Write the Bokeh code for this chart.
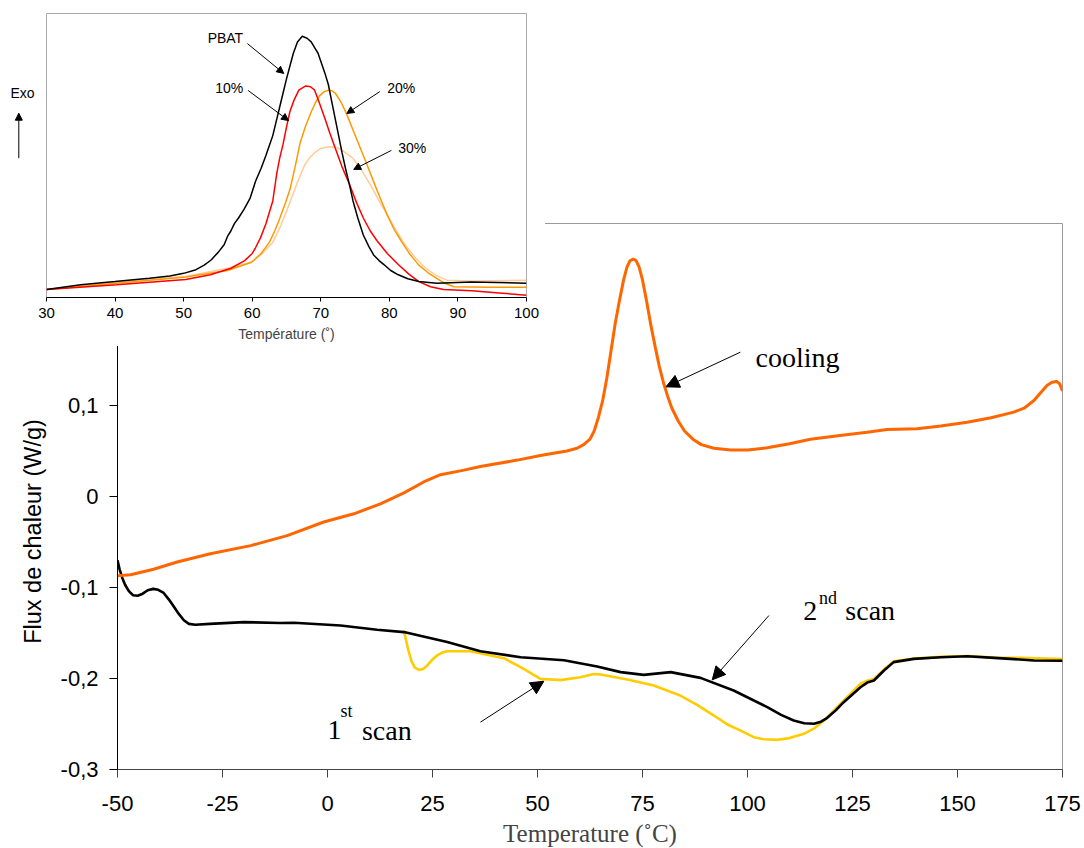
import math
from bokeh.plotting import figure
from bokeh.models import Range1d, FixedTicker, Label, Arrow, NormalHead
from bokeh.layouts import column
from bokeh.embed import file_html
from bokeh.resources import INLINE

# ---------------- main chart data ----------------
x_ticks = [-50, -25, 0, 25, 50, 75, 100, 125, 150, 175]
x_tick_labels = ["-50", "-25", "0", "25", "50", "75", "100", "125", "150", "175"]
y_ticks = [-0.3, -0.2, -0.1, 0, 0.1]
y_tick_labels = ["-0,3", "-0,2", "-0,1", "0", "0,1"]

cool_t = [-50, -46.9, -41.4, -35.8, -27.9, -18.3, -9.6, -0.9, 6.3, 12.6, 18.2, 22.9, 26.9, 32.5,
          36.4, 45.2, 50.7, 53.1, 57, 59.4, 61, 62.5, 63.5, 64.5, 65.5, 66.5, 67.5, 68.5, 69.5,
          70.5, 71.3, 72, 72.8, 73.5, 74.2, 75, 76, 77, 78, 79, 80, 81, 82, 83.5, 85, 87, 89, 92,
          96, 100, 104.7, 110, 115, 122, 128.5, 133.2, 140.4, 146, 152.3, 158, 163.4, 166, 168.2,
          170, 171.3, 172.5, 173.6, 174.3, 175]
cool_q = [-0.087, -0.086, -0.080, -0.072, -0.063, -0.054, -0.043, -0.028, -0.019, -0.008, 0.004,
          0.016, 0.024, 0.029, 0.033, 0.040, 0.045, 0.047, 0.050, 0.053, 0.057, 0.063, 0.072,
          0.087, 0.105, 0.130, 0.160, 0.190, 0.215, 0.238, 0.252, 0.259, 0.261, 0.259, 0.252,
          0.238, 0.214, 0.188, 0.165, 0.143, 0.125, 0.110, 0.097, 0.083, 0.072, 0.063, 0.057,
          0.053, 0.051, 0.051, 0.0535, 0.058, 0.063, 0.067, 0.0707, 0.0736, 0.0744, 0.0775,
          0.0817, 0.0865, 0.0927, 0.0975, 0.1055, 0.115, 0.122, 0.1255, 0.1264, 0.124, 0.116]

scan2_t = [-50, -49.5, -48.9, -48.2, -47.3, -46.3, -45.2, -44, -42.8, -41.5, -40.3, -39, -37.8,
           -36.6, -35.4, -34.2, -33, -31.5, -28, -19.9, -11.2, -8, 3.1, 11.8, 18.2, 28.5, 36.4,
           46, 56.3, 64.2, 69.8, 75.3, 81.7, 88.8, 96.7, 104.7, 108, 111, 113.5, 115.8, 117.5,
           119, 121, 122.9, 126.9, 128.5, 130.1, 132.5, 134.8, 139.6, 146, 152.3, 158.7, 168.2, 175]
scan2_q = [-0.070, -0.080, -0.089, -0.097, -0.104, -0.1085, -0.109, -0.1068, -0.103, -0.1015,
           -0.1025, -0.106, -0.113, -0.121, -0.129, -0.136, -0.1400, -0.1410, -0.1400, -0.138,
           -0.139, -0.1388, -0.1418, -0.1465, -0.149, -0.160, -0.170, -0.1766, -0.180, -0.1868,
           -0.193, -0.196, -0.193, -0.1993, -0.2132, -0.2315, -0.2400, -0.2462, -0.2492, -0.2498,
           -0.2475, -0.2432, -0.235, -0.226, -0.2096, -0.2045, -0.2022, -0.1912, -0.182, -0.1784,
           -0.1766, -0.1755, -0.1773, -0.1802, -0.1805]

scan1_t = [18.2, 18.7, 19.3, 20, 20.8, 21.8, 22.8, 23.7, 24.8, 26.1, 27.3, 28.5, 34, 42, 46, 50.7,
           55.5, 60.2, 63.4, 65, 71.4, 77.7, 84, 88, 92, 95.2, 97.5, 101.5, 104, 107.1, 110, 113.4,
           116, 118.2, 122.1, 126.9, 128.5, 130.1, 132.5, 134.8, 139.6, 146, 152.3, 158.7, 165, 175]
scan1_q = [-0.1473, -0.158, -0.170, -0.181, -0.188, -0.1905, -0.1895, -0.1860, -0.180, -0.1747,
           -0.1715, -0.170, -0.170, -0.1777, -0.1876, -0.2004, -0.2018, -0.1986, -0.195, -0.1956,
           -0.201, -0.2077, -0.2187, -0.229, -0.2407, -0.2505, -0.2553, -0.2645, -0.2668, -0.2674,
           -0.2655, -0.2608, -0.2545, -0.2462, -0.2278, -0.2058, -0.2025, -0.2005, -0.190, -0.181,
           -0.178, -0.1762, -0.1752, -0.1770, -0.1772, -0.1785]

# ---------------- inset data (arbitrary exo units) ----------------
inset_x_ticks = [30, 40, 50, 60, 70, 80, 90, 100]

pbat_t = [30, 35, 40, 45, 48, 50, 51.8, 53, 54, 55, 55.9, 56.4, 56.9, 57.4, 58, 58.8, 59.7, 60.5,
          61.3, 62, 62.5, 63, 63.5, 64, 64.5, 65, 65.5, 66, 66.6, 67.3, 68, 68.6, 69.1, 69.6, 70.1,
          70.6, 71.1, 71.6, 72.1, 72.6, 73.1, 73.6, 74.2, 74.7, 75.4, 76.2, 77, 77.7, 78.5, 79.2,
          80.2, 81.3, 82.7, 84.3, 86.9, 92, 100]
pbat_v = [2.8, 4.5, 5.6, 6.8, 7.6, 8.5, 9.8, 11.4, 13.2, 15.8, 18.6, 21.5, 23.5, 26, 28, 31, 35,
          41, 45.5, 50, 53.5, 57, 62, 67, 72, 77, 81.5, 86, 90, 92, 91.3, 90, 88, 86, 82.5, 79,
          75, 69, 63, 57, 51, 45.5, 39.5, 34, 28, 22, 18, 15, 13, 11.6, 9.5, 8, 6.6, 5.6, 5, 5.5, 5]

p10_t = [30, 40.2, 50.3, 53.9, 56.9, 58.9, 60, 60.5, 61.2, 62, 62.5, 63, 63.3, 63.6, 64, 64.5, 65,
         65.5, 66.1, 66.8, 67.8, 68.5, 69.1, 69.8, 70.6, 71.3, 72.1, 73.1, 74.2, 75.2, 76.2, 77.2,
         78.2, 79.7, 81.3, 82.8, 84.3, 86, 87.9, 92, 96, 100]
p10_v = [2.8, 4.5, 6.3, 8, 10.3, 13, 15.5, 17.6, 21, 26, 30, 34, 39, 44, 49, 54, 60, 65.5, 69.5,
         73, 74.5, 74.2, 73, 68.5, 63, 58, 52.6, 46, 39.8, 33.5, 28, 23.5, 20, 15.5, 11.6, 8.3,
         5.6, 3.8, 2.8, 2.4, 1.6, 0.8]

p20_t = [30, 40.2, 50.3, 56.4, 59.9, 61.3, 62.5, 63.3, 64, 64.8, 65.5, 66.3, 67, 67.8, 68.6, 69.2,
         69.8, 70.5, 71.1, 71.6, 72.1, 72.9, 73.7, 74.7, 75.7, 76.7, 77.7, 78.7, 79.7, 80.7, 81.8,
         83, 84.3, 85.6, 86.9, 88.1, 89.4, 94.5, 100]
p20_v = [2.8, 5, 7.2, 9.5, 12.4, 15.5, 19.4, 23.5, 27.7, 33, 38, 46.5, 54.6, 60.5, 65.3, 68.5, 71,
         72.5, 73, 72.8, 72, 69, 65, 59, 53, 47, 40.8, 34.8, 29, 24, 19.6, 15.2, 11.4, 8.8, 6.7,
         5, 3.8, 3.6, 3.6]

p30_t = [30, 40.2, 50.3, 56.4, 59.9, 61.5, 63, 64.2, 65.5, 66.5, 67.6, 68.3, 69.1, 70, 70.9, 71.8,
         72.6, 73.6, 74.7, 75.9, 77.2, 78.4, 79.7, 81, 82.3, 83.8, 85.3, 86.8, 88.4, 92, 100]
p30_v = [2.8, 5.4, 7.4, 10.3, 12.4, 15.5, 19.4, 25.5, 33.5, 40, 46.4, 49, 51, 52.5, 53, 53, 52.6,
         51, 49, 45, 39.8, 34.5, 29, 23.5, 18.5, 14, 10.3, 7.8, 6.1, 5.8, 6.1]

SANS = "Liberation Sans"
SERIF = "Liberation Serif"

# ---------------- main figure ----------------
p = figure(frame_width=945, frame_height=546, min_border_left=117, min_border_right=22,
           min_border_top=223, min_border_bottom=79, x_range=Range1d(-50, 175),
           y_range=Range1d(-0.3, 0.3), output_backend="svg", toolbar_location=None)
p.grid.visible = False
p.outline_line_color = "#999999"
p.background_fill_color = "white"
p.border_fill_color = "white"

p.xaxis.ticker = FixedTicker(ticks=x_ticks)
p.xaxis.major_label_overrides = {t: s for t, s in zip(x_ticks, x_tick_labels)}
p.xaxis.axis_line_color = "#444444"
p.xaxis.major_tick_line_color = "#444444"
p.xaxis.major_tick_in = 0
p.xaxis.major_tick_out = 8
p.xaxis.minor_tick_line_color = None
p.xaxis.major_label_text_font = SANS
p.xaxis.major_label_text_font_size = "22px"
p.xaxis.major_label_text_color = "black"
p.xaxis.major_label_standoff = 18
p.xaxis.axis_label = "Temperature (˚C)"
p.xaxis.axis_label_text_font = SERIF
p.xaxis.axis_label_text_font_size = "25px"
p.xaxis.axis_label_text_font_style = "normal"
p.xaxis.axis_label_standoff = 6

p.yaxis.ticker = FixedTicker(ticks=y_ticks)
p.yaxis.major_label_overrides = {t: s for t, s in zip(y_ticks, y_tick_labels)}
p.yaxis.axis_line_color = "black"
p.yaxis.major_tick_line_color = "black"
p.yaxis.major_tick_in = 0
p.yaxis.major_tick_out = 8
p.yaxis.minor_tick_line_color = None
p.yaxis.major_label_text_font = SANS
p.yaxis.major_label_text_font_size = "22px"
p.yaxis.major_label_text_color = "black"
p.yaxis.major_label_standoff = 11

p.line(scan1_t, scan1_q, line_color="#FFCC00", line_width=2.6)
p.line(scan2_t, scan2_q, line_color="black", line_width=2.6)
p.line(cool_t, cool_q, line_color="#FF6600", line_width=3)

def main_label(x, y, text, size):
    p.add_layout(Label(x=x, y=y, text=text, text_font=SERIF, text_font_size=size,
                       text_align="left", text_baseline="alphabetic", text_color="black"))

main_label(101.9, 0.1527, "cooling", "28px")
main_label(113.3, -0.1253, "2", "28px")
main_label(117.0, -0.1110, "nd", "18px")
main_label(123.3, -0.1253, "scan", "28px")
main_label(0.0, -0.2571, "1", "28px")
main_label(3.1, -0.2352, "st", "18px")
main_label(8.2, -0.2571, "scan", "28px")

def main_arrow(x0, y0, x1, y1):
    p.add_layout(Arrow(x_start=x0, y_start=y0, x_end=x1, y_end=y1, line_width=1, line_color="black",
                       end=NormalHead(size=13, fill_color="black", line_color="black")))

main_arrow(98.3, 0.1586, 80.6, 0.1205)
main_arrow(105.1, -0.1308, 91.6, -0.2015)
main_arrow(36.4, -0.2480, 51.5, -0.2030)

# ---------------- inset figure ----------------
q = figure(frame_width=480, frame_height=284, min_border_left=46, min_border_right=19,
           min_border_top=12, min_border_bottom=49, x_range=Range1d(30, 100),
           y_range=Range1d(0, 100), y_axis_location=None, output_backend="svg",
           toolbar_location=None)
q.grid.visible = False
q.outline_line_color = "#AAAAAA"
q.background_fill_color = "white"
q.border_fill_color = "white"
q.xaxis.ticker = FixedTicker(ticks=inset_x_ticks)
q.xaxis.axis_line_color = "black"
q.xaxis.major_tick_line_color = "black"
q.xaxis.major_tick_in = 0
q.xaxis.major_tick_out = 4
q.xaxis.minor_tick_line_color = None
q.xaxis.major_label_text_font = SANS
q.xaxis.major_label_text_font_size = "15px"
q.xaxis.major_label_text_color = "black"
q.xaxis.major_label_standoff = 6
q.xaxis.axis_label = "Température (˚)"
q.xaxis.axis_label_text_font = SANS
q.xaxis.axis_label_text_font_size = "14px"
q.xaxis.axis_label_text_font_style = "normal"
q.xaxis.axis_label_standoff = 5

q.line(p30_t, p30_v, line_color="#FFCC99", line_width=1.5)
q.line(p20_t, p20_v, line_color="#FF9900", line_width=1.5)
q.line(p10_t, p10_v, line_color="#FF0000", line_width=1.5)
q.line(pbat_t, pbat_v, line_color="black", line_width=1.5)

def inset_label(fig, x, y, text):
    fig.add_layout(Label(x=x, y=y, text=text, text_font=SANS, text_font_size="14px",
                         text_align="left", text_baseline="middle", text_color="black"))

def inset_arrow(fig, x0, y0, x1, y1):
    fig.add_layout(Arrow(x_start=x0, y_start=y0, x_end=x1, y_end=y1, line_width=1,
                         line_color="black",
                         end=NormalHead(size=7, fill_color="black", line_color="black")))

inset_label(q, 53.5, 91.2, "PBAT")
inset_label(q, 54.6, 73.6, "10%")
inset_label(q, 79.7, 73.6, "20%")
inset_label(q, 81.3, 52.8, "30%")
inset_arrow(q, 59.3, 89.4, 64.6, 78.9)
inset_arrow(q, 59.4, 72.9, 65.3, 62.3)
inset_arrow(q, 78.6, 72.5, 73.8, 64.8)
inset_arrow(q, 80.3, 51.8, 74.8, 45.1)

# ---------------- "Exo" marker (small panel left of the inset frame) ----------------
e = figure(width=45, height=110, min_border=0, x_range=Range1d(0, 45), y_range=Range1d(0, 110),
           x_axis_location=None, y_axis_location=None, output_backend="svg",
           toolbar_location=None)
e.grid.visible = False
e.outline_line_color = None
e.background_fill_color = "white"
e.border_fill_color = "white"
inset_label(e, 10, 79, "Exo")
inset_arrow(e, 18.3, 13.3, 18.3, 58.3)

# ---------------- y-axis title of the main chart (panel on the left border) ----------------
f = figure(width=50, height=330, min_border=0, x_range=Range1d(0, 50), y_range=Range1d(0, 330),
           x_axis_location=None, y_axis_location=None, output_backend="svg",
           toolbar_location=None)
f.grid.visible = False
f.outline_line_color = None
f.background_fill_color = "white"
f.border_fill_color = "white"
f.add_layout(Label(x=32, y=165, text="Flux de chaleur (W/g)", angle=math.pi / 2,
                   text_align="center", text_baseline="middle", text_font=SANS,
                   text_font_size="23.5px", text_color="black"))

layout = column(p,
                column(q, margin=(-848, 0, 0, 0)),
                column(e, margin=(-285, 0, 0, 0)),
                column(f, margin=(195, 0, 0, 0)))
open("out.html", "w").write(file_html(layout, INLINE))
